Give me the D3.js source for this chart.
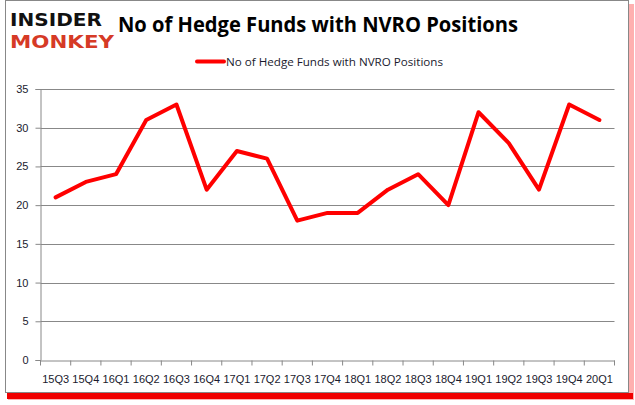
<!DOCTYPE html>
<html>
<head>
<meta charset="utf-8">
<script src="https://cdn.jsdelivr.net/npm/d3@7.9.0/dist/d3.min.js"></script>
<style>
  body { margin: 0; background: #fff; }
  svg { display: block; font-family: "Open Sans", "DejaVu Sans", sans-serif; }
</style>
</head>
<body>
<svg width="635" height="405"></svg>
<script>
const quarters = ['15Q3', '15Q4', '16Q1', '16Q2', '16Q3', '16Q4', '17Q1', '17Q2', '17Q3', '17Q4',
    '18Q1', '18Q2', '18Q3', '18Q4', '19Q1', '19Q2', '19Q3', '19Q4', '20Q1'];
const funds = [21, 23, 24, 31, 33, 22, 27, 26, 18, 19, 19, 22, 24, 20, 32, 28, 22, 33, 31];
const yTicks = [0, 5, 10, 15, 20, 25, 30, 35];

const svg = d3.select('svg');

// frame with red shadow
svg.append('rect').attr('x', 8).attr('y', 4).attr('width', 626).attr('height', 396)
    .attr('fill', '#ffb0b0');
svg.append('rect').attr('x', 7).attr('y', 393).attr('width', 626).attr('height', 6)
    .attr('fill', '#f00000');
svg.append('rect').attr('x', 5.5).attr('y', 0.5).attr('width', 623).attr('height', 392)
    .attr('fill', '#fff').attr('stroke', '#888');

const x = d3.scaleBand().domain(quarters).range([40.5, 614.5]);
const y = d3.scaleLinear().domain([0, 35]).range([360, 89]);

// gridlines
svg.append('g').selectAll('line').data(yTicks.filter(d => d > 0)).join('line')
    .attr('x1', 40.5).attr('x2', 614.5)
    .attr('y1', d => Math.round(y(d)) + 0.5).attr('y2', d => Math.round(y(d)) + 0.5)
    .attr('stroke', '#888');

// y axis
const yAxis = svg.append('g').attr('transform', 'translate(40.5,0)')
    .call(d3.axisLeft(y).tickValues(yTicks).tickSize(5).tickPadding(7));
yAxis.select('.domain').attr('stroke', '#888');
yAxis.selectAll('.tick line').attr('stroke', '#888');
yAxis.selectAll('text').attr('font-size', 11).attr('fill', '#1a1a2e');

// x axis
const xAxis = svg.append('g').attr('transform', 'translate(0,360.5)')
    .call(d3.axisBottom(x).tickSize(0).tickPadding(15));
xAxis.select('.domain').attr('stroke', '#888');
xAxis.selectAll('text').attr('font-size', 11).attr('fill', '#1a1a2e');
xAxis.selectAll('.tk').data(quarters.concat(['end'])).join('line')
    .attr('class', 'tk')
    .attr('x1', (d, i) => i < quarters.length ? x(d) : x.range()[1])
    .attr('x2', (d, i) => i < quarters.length ? x(d) : x.range()[1])
    .attr('y1', 0).attr('y2', 5).attr('stroke', '#888');

// line
const line = d3.line()
    .x((d, i) => x(quarters[i]) + x.bandwidth() / 2)
    .y(d => y(d));
svg.append('path').datum(funds)
    .attr('d', line).attr('fill', 'none')
    .attr('stroke', '#ff0000').attr('stroke-width', 4)
    .attr('stroke-linejoin', 'round').attr('stroke-linecap', 'round');

// logo
svg.append('text').attr('x', 10).attr('y', 26)
    .attr('font-family', '"DejaVu Sans", sans-serif').attr('font-weight', 'bold')
    .attr('font-size', 18).attr('fill', '#111').attr('textLength', 92)
    .attr('lengthAdjust', 'spacingAndGlyphs').text('INSIDER');
svg.append('text').attr('x', 10).attr('y', 48)
    .attr('font-family', '"DejaVu Sans", sans-serif').attr('font-weight', 'bold')
    .attr('font-size', 18).attr('fill', '#d63a26').attr('textLength', 104)
    .attr('lengthAdjust', 'spacingAndGlyphs').text('MONKEY');

// title
svg.append('text').attr('x', 118).attr('y', 32)
    .attr('font-size', 21).attr('font-weight', 'bold').attr('fill', '#000')
    .attr('textLength', 400).attr('lengthAdjust', 'spacingAndGlyphs')
    .text('No of Hedge Funds with NVRO Positions');

// legend
svg.append('line').attr('x1', 197).attr('x2', 224).attr('y1', 61.5).attr('y2', 61.5)
    .attr('stroke', '#ff0000').attr('stroke-width', 4).attr('stroke-linecap', 'round');
svg.append('text').attr('x', 226).attr('y', 65.5)
    .attr('font-size', 11).attr('fill', '#1a1a2e')
    .attr('textLength', 217).attr('lengthAdjust', 'spacingAndGlyphs')
    .text('No of Hedge Funds with NVRO Positions');
</script>
</body>
</html>
